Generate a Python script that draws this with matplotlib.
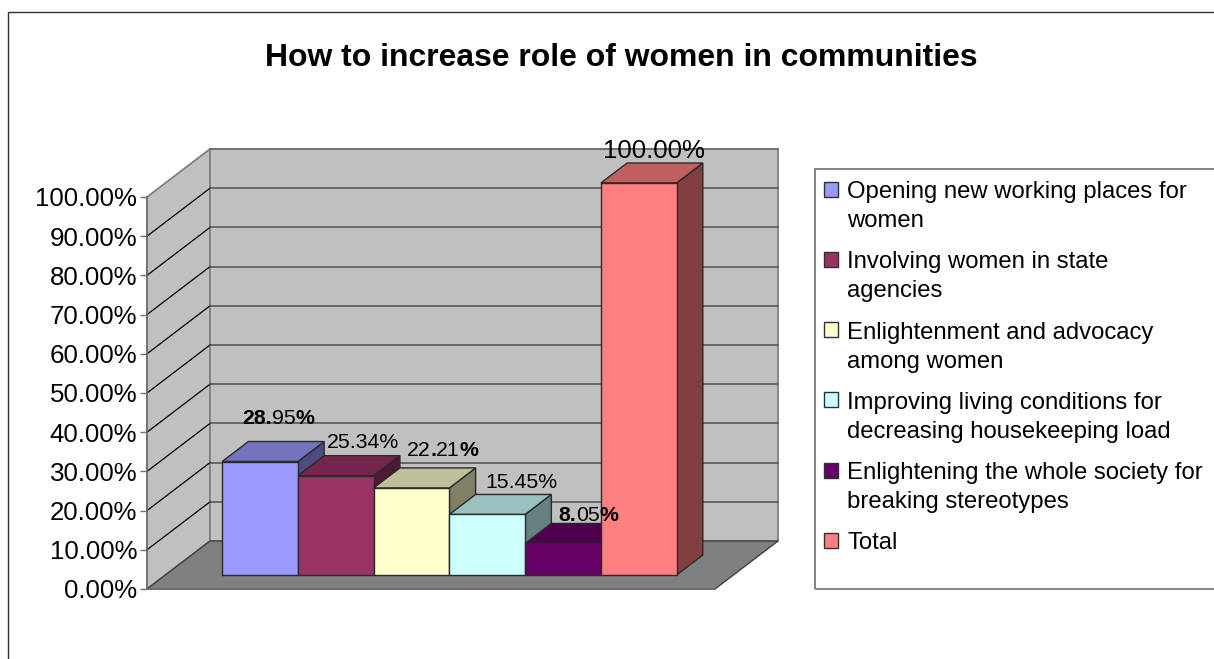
import matplotlib
matplotlib.use("Agg")
import matplotlib.pyplot as plt
from matplotlib.patches import Polygon, Rectangle
from matplotlib.colors import to_rgb

plt.rcParams['font.family'] = ['Liberation Sans', 'DejaVu Sans']

# ---- data ----
title = "How to increase role of women in communities"
series = ["Opening new working places for\nwomen",
          "Involving women in state\nagencies",
          "Enlightenment and advocacy\namong women",
          "Improving living conditions for\ndecreasing housekeeping load",
          "Enlightening the whole society for\nbreaking stereotypes",
          "Total"]
values = [28.95, 25.34, 22.21, 15.45, 8.05, 100.0]
colors = ["#9999FF", "#993366", "#FFFFCC", "#CCFFFF", "#660066", "#FF8080"]
y_ticks = list(range(0, 101, 10))
y_ticklabels = [f"{v}.00%" for v in y_ticks]
# (text, bold) runs of each data label, as typed in the source chart
label_runs = [[("28.", True), ("95", False), ("%", True)],
              [("25.34%", False)],
              [("22", False), (".", True), ("21", False), ("%", True)],
              [("15.45%", False)],
              [("8.", True), ("05", False), ("%", True)],
              [("100.00%", False)]]

# ---- layout ----
W, H = 1214, 659
label_off = [(-18, 38), (-9, 28), (-5, 32), (-2, 26), (-5, 22), (-36, 25)]  # px from bar's top-centre
label_size = [15.3, 15.3, 15.3, 15.3, 15.3, 18.6]
fig = plt.figure(figsize=(W / 100, H / 100), dpi=100, facecolor="white")
ax = fig.add_axes([147 / W, 1 - 589 / H, 568 / W, 392 / H])
ax.set_xlim(-0.75, 6.75)
ax.set_ylim(0, 100)
ax.patch.set_visible(False)

XS = 568 / 7.5     # px per x unit
YS = 392 / 100     # px per y unit
DX, DY = 63 / XS, 48 / YS   # full depth of the plot box in data units
D0, D1 = 14 / 48, 34 / 48   # bar front and back depth


def P(x, y, d=0.0):
    return (x + d * DX, y + d * DY)


def face(pts, fc, ec, z, lw=1.0):
    ax.add_patch(Polygon(pts, closed=True, facecolor=fc, edgecolor=ec, linewidth=lw,
                         zorder=z, clip_on=False, joinstyle="miter"))


def shade(c, f):
    return tuple(v * f for v in to_rgb(c))


xa, xb = ax.get_xlim()
# outer chart frame, running off the page to the right and the bottom
fig.add_artist(Rectangle((7.5, -20), W + 20, H + 20 - 11.5, transform=None, fill=False,
                         edgecolor="#303030", linewidth=1.0))

# walls and floor
face([P(xa, 0), P(xa, 100), P(xa, 100, 1), P(xa, 0, 1)], "#C0C0C0", "#808080", 1, 1.3)
face([P(xa, 0, 1), P(xa, 100, 1), P(xb, 100, 1), P(xb, 0, 1)], "#C0C0C0", "#808080", 1, 1.3)
face([P(xa, 0), P(xb, 0), P(xb, 0, 1), P(xa, 0, 1)], "#808080", "#404040", 1.5, 1.0)

# gridlines
for v in y_ticks[1:-1]:
    ax.plot(*zip(P(xa, v), P(xa, v, 1)), color="#000000", lw=0.9, zorder=2, clip_on=False)
    ax.plot(*zip(P(xa, v, 1), P(xb, v, 1)), color="#505050", lw=1.1, zorder=2, clip_on=False)
ax.plot(*zip(P(xa, 100, 1), P(xb, 100, 1)), color="#707070", lw=1.3, zorder=2, clip_on=False)

# 3-D bars
edge = "#2A2A2A"
for i, (v, c) in enumerate(zip(values, colors)):
    z = 3 + i * 0.1
    l, r = float(i), float(i + 1)
    face([P(r, 0, D0), P(r, v, D0), P(r, v, D1), P(r, 0, D1)], shade(c, 0.5), edge, z)
    face([P(l, v, D0), P(r, v, D0), P(r, v, D1), P(l, v, D1)], shade(c, 0.75), edge, z)
    face([P(l, 0, D0), P(r, 0, D0), P(r, v, D0), P(l, v, D0)], c, edge, z)

# axes
for s in ("top", "right"):
    ax.spines[s].set_visible(False)
for s in ("left", "bottom"):
    ax.spines[s].set_color("#707070")
    ax.spines[s].set_linewidth(1.2)
    ax.spines[s].set_zorder(2.5)
ax.set_xticks([])
ax.set_yticks(y_ticks)
ax.set_yticklabels(y_ticklabels, fontsize=18.6, color="#000000")
ax.tick_params(axis="y", length=5, width=1, color="#707070", pad=2)

# title
fig.text(621 / W, 1 - 65.5 / H, title, ha="center", va="baseline", fontsize=22.95, fontweight="bold")

# data labels: mixed-weight runs placed side by side on one baseline
renderer = fig.canvas.get_renderer()
for i, (v, runs) in enumerate(zip(values, label_runs)):
    ox = label_off[i][0]
    for txt, bold in runs:
        t = ax.annotate(txt, xy=P(i + 0.5, v, D0), xycoords="data",
                        xytext=(ox * 0.72, label_off[i][1] * 0.72), textcoords="offset points",
                        ha="left", va="baseline", fontsize=label_size[i],
                        fontweight="bold" if bold else "normal", color="#000000",
                        zorder=6 if i in (0, 4) else 2.8 if i == 5 else 3.5, annotation_clip=False)
        ox += t.get_window_extent(renderer).width

# legend
fig.add_artist(Rectangle((814.5, H - 589), W + 20 - 814, 420, transform=None, fill=False,
                         edgecolor="#707070", linewidth=1.2))
handles = [Rectangle((0, 0), 1, 1, facecolor=c, edgecolor="#303030", linewidth=1.0) for c in colors]
fs = 17.2
leg = ax.legend(handles, series, loc="upper left", bbox_to_anchor=(824 / W, 1 - 181 / H),
                bbox_transform=fig.transFigure, frameon=False, fontsize=fs, borderpad=0,
                borderaxespad=0, handlelength=14 * 0.72 / fs, handleheight=14 * 0.72 / fs,
                handletextpad=9 * 0.72 / fs, labelspacing=0.80)
line_px = 17.5
for t, h, lab in zip(leg.get_texts(), leg.legend_handles, series):
    t.set_linespacing(1.42)
    if "\n" in lab:
        h.set_y(h.get_y() + line_px * 0.72)

fig.savefig("out.png", dpi=100)
